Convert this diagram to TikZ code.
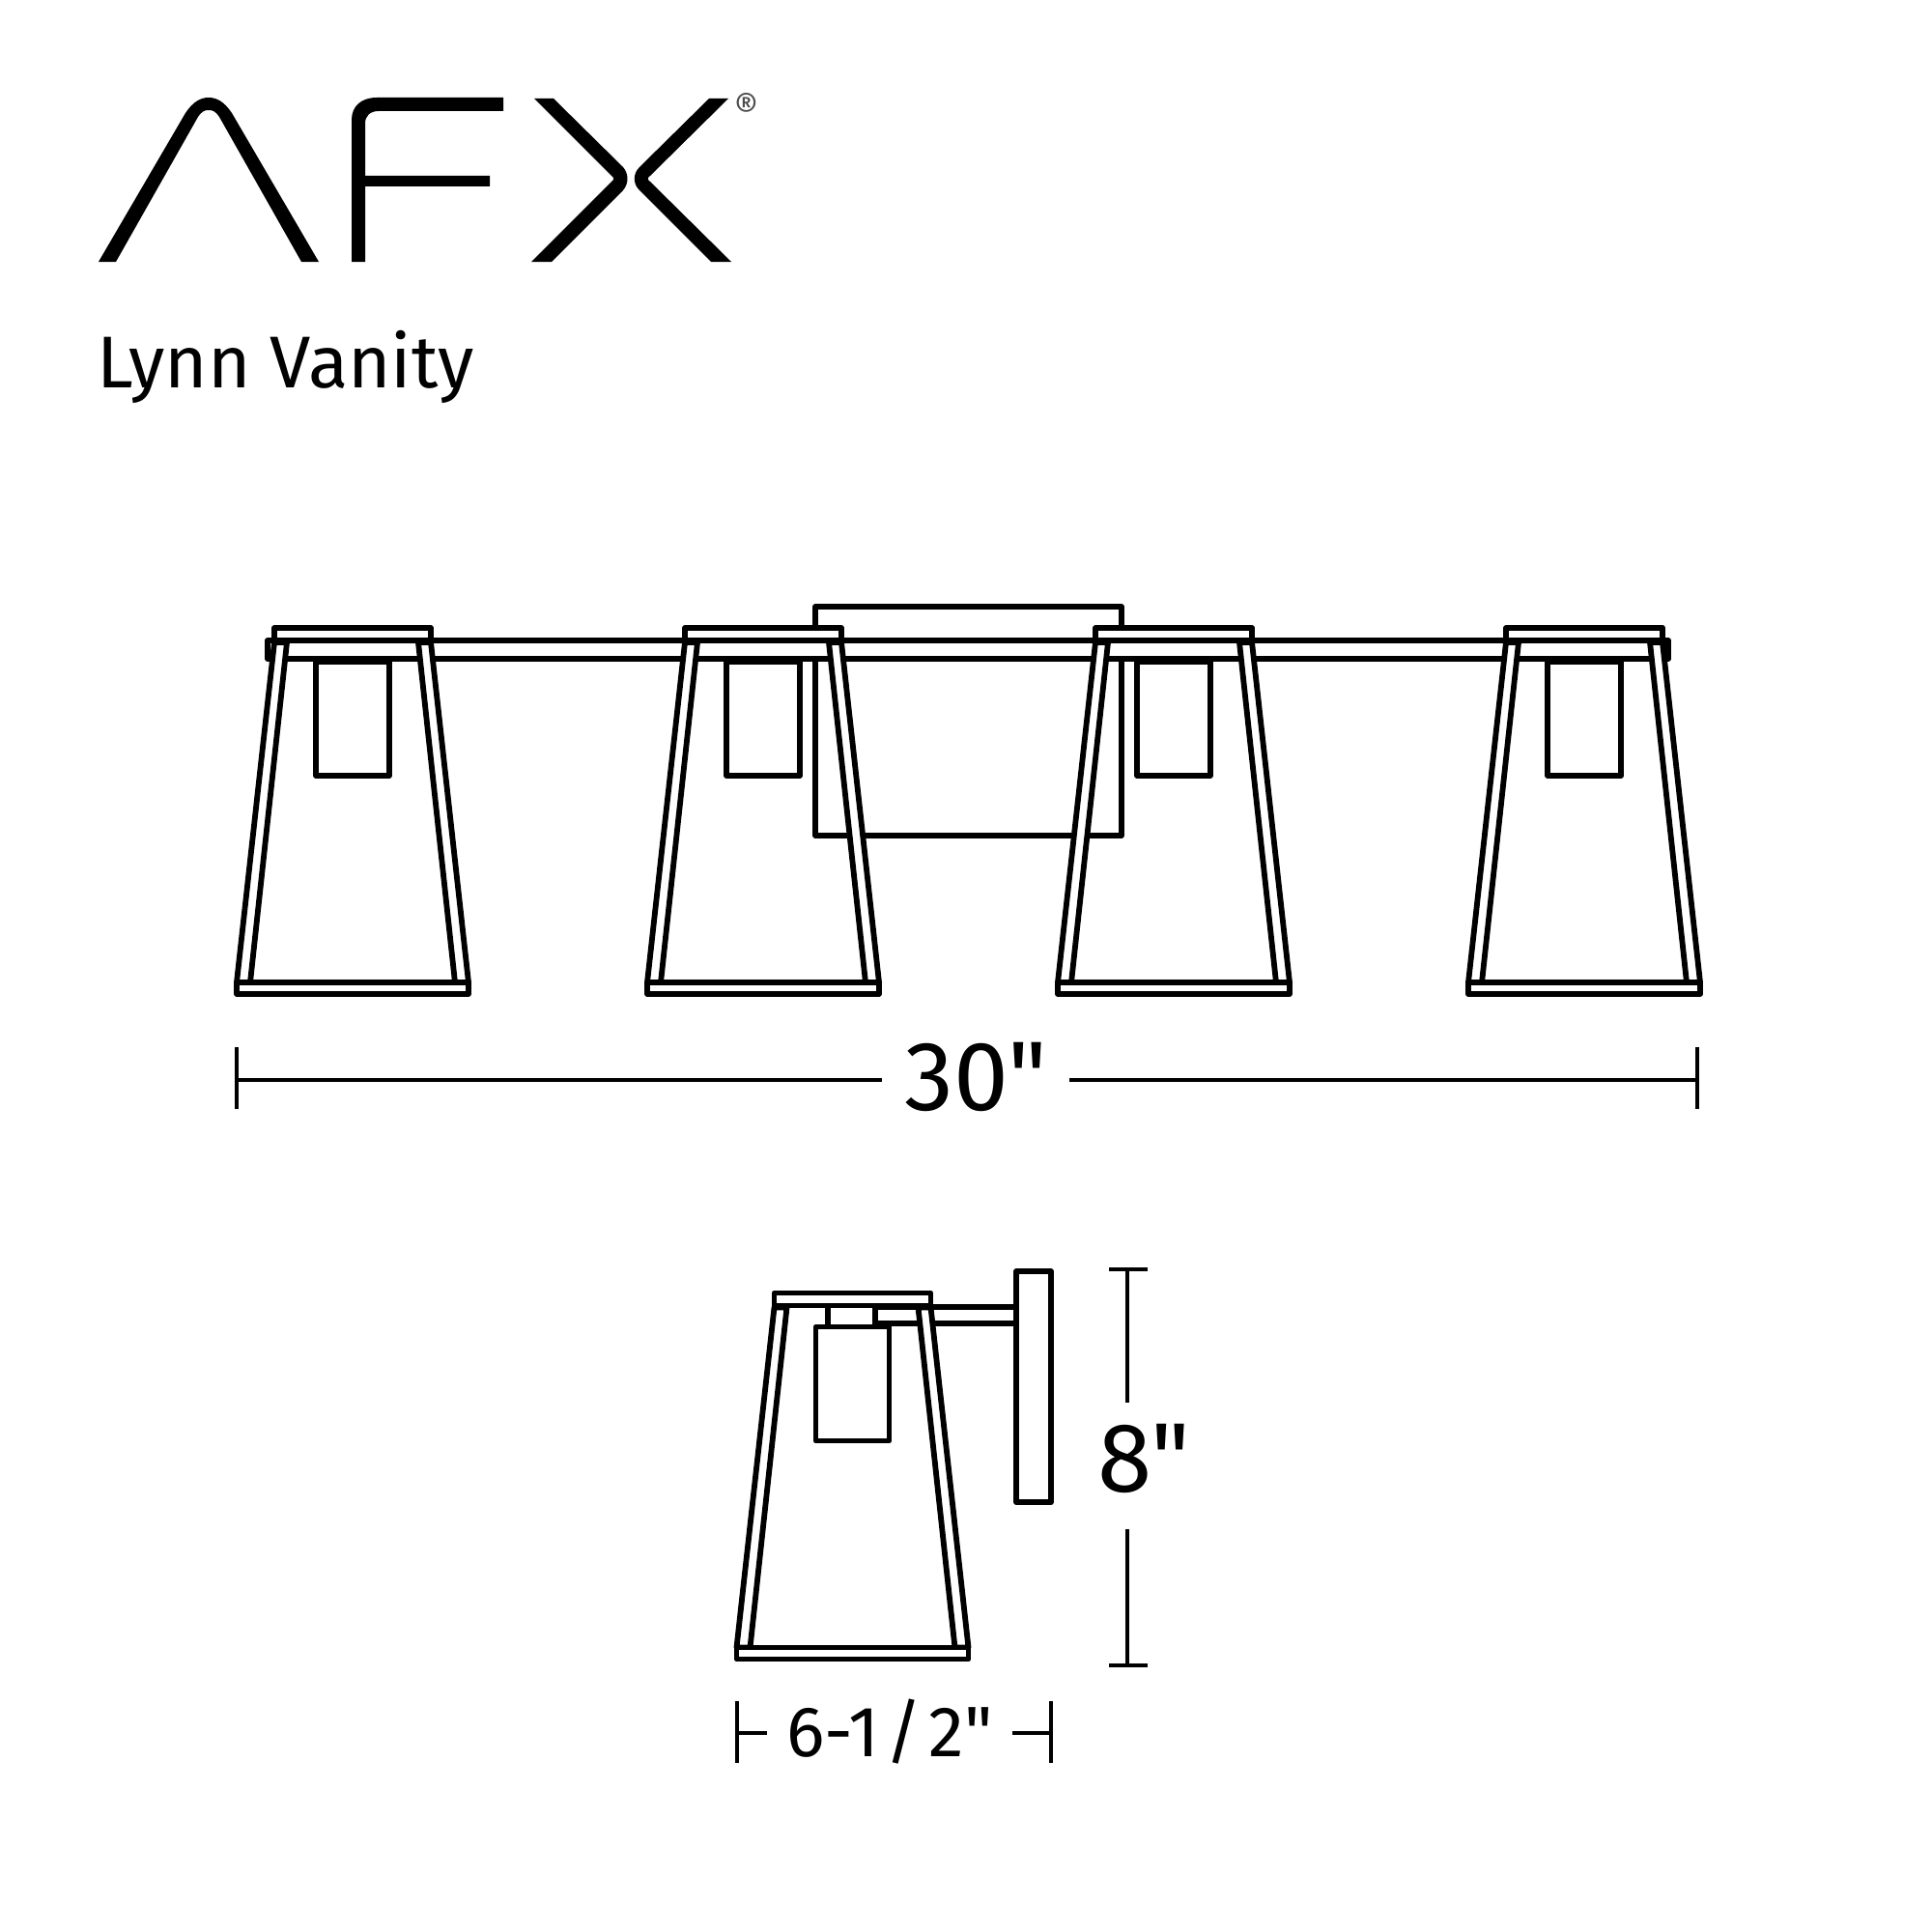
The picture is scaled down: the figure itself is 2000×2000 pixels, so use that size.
\documentclass[tikz,border=0pt]{standalone}
\usepackage{fontspec}
\newfontfamily\dinfont{Fira Sans}
\tikzset{
    fixture/.style={draw=black,line width=1.65pt,line join=round,fill=white},
    outline/.style={draw=black,line width=1.65pt,line join=round},
    dimline/.style={draw=black,line width=1.15pt},
    logo/.style={fill=black,draw=none},
    dimtext/.style={inner sep=0pt,font=\dinfont\fontsize{29}{29}\selectfont},
    lamp/.pic={
        \draw[outline] (-38,685) rectangle (38,803);
        \draw[fixture] (-81,665) -- (-120,1017) -- (-106,1017) -- (-68,665) -- cycle;
        \draw[fixture] (81,665) -- (120,1017) -- (106,1017) -- (68,665) -- cycle;
        \draw[fixture] (-81,650) rectangle (81,663);
        \draw[fixture] (-120,1017) rectangle (120,1029);
    }
}
\begin{document}
\begin{tikzpicture}[x=0.01cm,y=-0.01cm]
    \useasboundingbox (0,0) rectangle (2000,2000);
    \fill[logo] (102,271) -- (192,117) .. controls (200,105) and (208,101) .. (216,101) .. controls (224,101) and (232,105) .. (240,117) -- (330,271) -- (312,271) -- (227,121) .. controls (223,115) and (220,114) .. (216,114) .. controls (212,114) and (209,115) .. (205,121) -- (120,271) -- cycle;
    \fill[logo] (364,271) -- (364,124) .. controls (364,110) and (374,101) .. (390,101) -- (521,101) -- (521,115) -- (392,115) .. controls (383,115) and (378,120) .. (378,128) -- (378,182) -- (507,182) -- (507,193) -- (378,193) -- (378,271) -- cycle;
    \fill[logo] (553,102) -- (573,102) -- (645,173) .. controls (651,180) and (651,190) .. (645,197) -- (571,271) -- (550,271) -- (633,188) .. controls (636,186) and (636,184) .. (633,182) -- cycle;
    \fill[logo] (754,102) -- (734,102) -- (662,173) .. controls (655,180) and (655,190) .. (662,197) -- (736,271) -- (757,271) -- (673,188) .. controls (670,186) and (670,184) .. (673,182) -- cycle;
    \node[inner sep=0pt,text=black!70,font=\dinfont\fontsize{11}{11}\selectfont] (Reg) at (773,111) {®};
    \node[anchor=base west,inner sep=0pt,font=\dinfont\fontsize{21.6}{21.6}\selectfont] (Title) at (100,401) {Lynn Vanity};

    \draw[fixture] (844,628) rectangle (1161,865);
    \draw[fixture] (277,663) rectangle (1727,682);
    \foreach \cx in {365,790,1215,1640} {
        \pic at (\cx,0) {lamp};
    }

    \coordinate (WL) at (245,1118);
    \coordinate (WR) at (1757,1118);
    \node[dimtext,minimum width=1.93cm] (Wd) at (1010,1115) {30"};
    \draw[dimline] (WL) -- (Wd.west |- WL);
    \draw[dimline] (Wd.east |- WR) -- (WR);
    \draw[dimline] (245,1084) -- (245,1148);
    \draw[dimline] (1757,1084) -- (1757,1148);

    \draw[fixture] (906,1353) rectangle (1052,1370);
    \draw[fixture] (1052,1316) rectangle (1088,1555);
    \pic at (882.5,688.5) {lamp};
    \draw[outline] (857,1351) -- (857,1372);
    \draw[outline] (906,1351) -- (906,1372);

    \coordinate (HT) at (1167,1314);
    \coordinate (HA) at (1167,1452);
    \coordinate (HC) at (1167,1583);
    \coordinate (HB) at (1167,1724);
    \node[dimtext] (Ht) at (1184,1510) {8"};
    \draw[dimline] (HT) -- (HA);
    \draw[dimline] (HC) -- (HB);
    \draw[dimline] (1148,1314) -- (1188,1314);
    \draw[dimline] (1148,1724) -- (1188,1724);

    \coordinate (DL) at (763,1794);
    \coordinate (DR) at (1088,1794);
    \node[inner sep=0pt,font=\dinfont\fontsize{21}{21}\selectfont,minimum width=2.52cm] (Dp) at (921,1793) {6-1\kern1.8pt/\kern1.8pt2"};
    \draw[dimline] (DL) -- (Dp.west |- DL);
    \draw[dimline] (Dp.east |- DR) -- (DR);
    \draw[dimline] (763,1761) -- (763,1825);
    \draw[dimline] (1088,1761) -- (1088,1825);
\end{tikzpicture}
\end{document}
